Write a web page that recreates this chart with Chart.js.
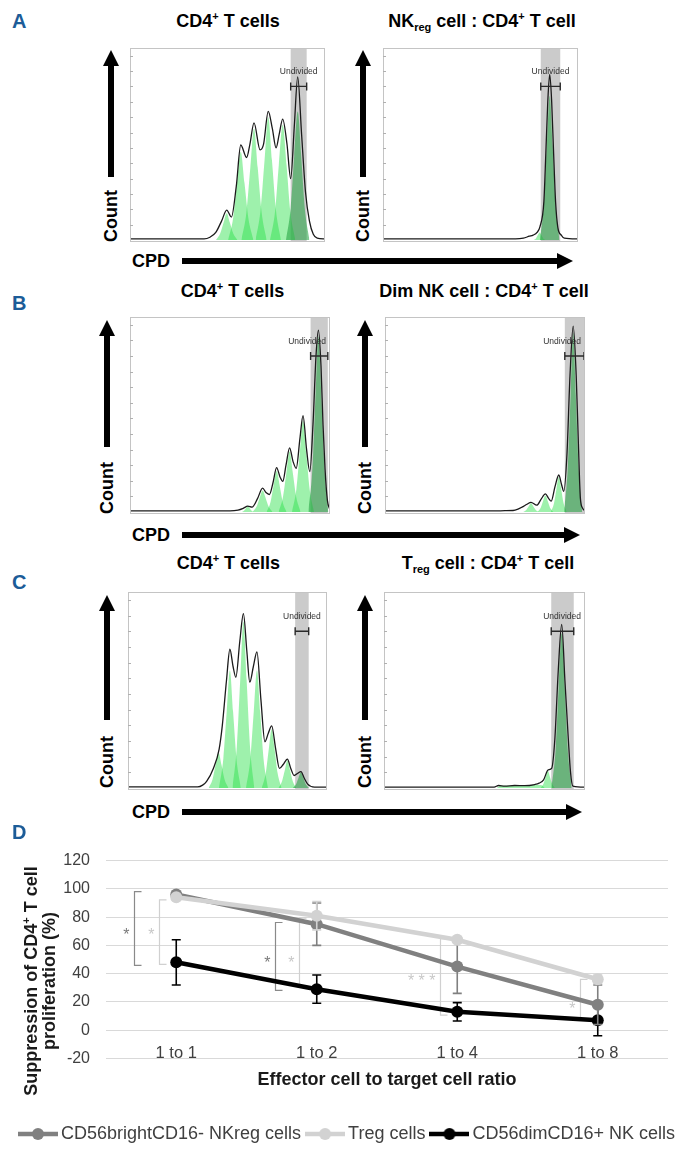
<!DOCTYPE html>
<html>
<head>
<meta charset="utf-8">
<script src="https://cdn.jsdelivr.net/npm/chart.js"></script>
<style>
  body { margin: 0; width: 697px; height: 1155px; position: relative; overflow: hidden; background: #fff;
         font-family: "Liberation Sans", Arial, sans-serif; color: #000; }
  canvas { position: absolute; }
  .lt { position: absolute; left: 12px; font-weight: bold; font-size: 20px; color: #1c5c98; transform: translateY(-50%); }
  .ttl { position: absolute; font-weight: bold; font-size: 18px; line-height: 20px; white-space: nowrap; transform: translate(-50%, -50%); }
  .ttl sup { font-size: 11px; vertical-align: 7px; line-height: 0; }
  .ttl sub { font-size: 11px; vertical-align: -4px; line-height: 0; }
  .cnt { position: absolute; font-weight: bold; font-size: 18px; line-height: 20px; transform: translate(-50%, -50%) rotate(-90deg); }
  .cpd { position: absolute; left: 132px; font-weight: bold; font-size: 18px; line-height: 20px; transform: translateY(-50%); }
  .blk { position: absolute; background: #000; }
  .headUp { position: absolute; width: 0; height: 0; border-left: 8px solid transparent; border-right: 8px solid transparent; border-bottom: 16px solid #000; }
  .headRight { position: absolute; width: 0; height: 0; border-top: 8px solid transparent; border-bottom: 8px solid transparent; border-left: 16px solid #000; }
  .ytitle { position: absolute; left: 40px; top: 981px; font-weight: bold; font-size: 18px; line-height: 18px; text-align: center;
            white-space: nowrap; color: #1a1a1a; transform: translate(-50%, -50%) rotate(-90deg); }
  .ytitle sup { font-size: 11px; vertical-align: 7px; line-height: 0; }
</style>
</head>
<body>
<canvas id="aLeft" width="195" height="194" style="left:130px;top:48px"></canvas>
<canvas id="aRight" width="195" height="194" style="left:383px;top:48px"></canvas>
<canvas id="bLeft" width="200" height="197" style="left:130px;top:317px"></canvas>
<canvas id="bRight" width="200" height="197" style="left:385px;top:317px"></canvas>
<canvas id="cLeft" width="199" height="198" style="left:128px;top:592px"></canvas>
<canvas id="cRight" width="201" height="198" style="left:384px;top:592px"></canvas>
<canvas id="lineD" width="697" height="320" style="left:0;top:835px"></canvas>
<div class="ytitle">Suppression of CD4<sup>+</sup> T cell<br>proliferation (%)</div>
<script>
// ---- panel A-C : CPD histograms (x = CPD 0-100, y = count % of max) ----
const aLeftOutline = [[0,0.6],[38,0.6],[41,1.5],[44,4],[47,10],[49.6,15.6],[52,12],[54.5,28],[56.8,49.5],[59.8,43],[61.5,50],[63.6,61],[66.7,47],[68.5,50],[70.9,67],[73,58],[74.9,48],[76.5,55],[78.3,63],[80.5,50],[82.4,32],[84.3,60],[86,85],[88,55],[90,25],[92,10],[94,3],[96,1],[100,0.6]];
const aLeftPeaks = [
  [[44.1,0],[46.3,3.5],[48,9.1],[49.6,14],[51.2,9.1],[52.9,3.5],[55.1,0]],
  [[50.3,0],[52.9,11.5],[54.9,29.9],[56.8,46],[58.7,29.9],[60.7,11.5],[63.3,0]],
  [[57.1,0],[59.7,14.5],[61.7,37.7],[63.6,58],[65.5,37.7],[67.5,14.5],[70.1,0]],
  [[64.4,0],[67,16],[69,41.6],[70.9,64],[72.8,41.6],[74.8,16],[77.4,0]],
  [[71.8,0],[74.4,15],[76.3,39],[78.3,60],[80.3,39],[82.2,15],[84.8,0]]
];
const aLeftUndivided = [[80,0],[82.4,16.8],[84.2,43.6],[86,67],[87.8,43.6],[89.6,16.8],[92,0]];
const aLeftGate = [82.4, 90.6];

const aRightOutline = [[0,0.6],[68,0.6],[72,1],[75,2],[77,2.6],[79,4],[80.5,7],[82.5,20],[83.5,45],[84.5,72],[85.5,86.3],[86.5,72],[87.5,45],[88.5,20],[89.7,6.4],[91.5,2.5],[93,1],[100,0.6]];
const aRightPeaks = [
  [[77.3,0],[78.5,1],[79.4,2.6],[80.3,4],[81.2,2.6],[82.1,1],[83.3,0]]
];
const aRightUndivided = [[80.5,0],[82.5,18.8],[84,48.8],[85.5,75],[87,48.8],[88.5,18.8],[90.5,0]];
const aRightGate = [80.9, 90.9];

const bLeftOutline = [[0,0.6],[50,0.6],[54,1],[56.6,1.9],[58.9,3],[61,2.5],[63.8,7],[66.3,12.3],[68,10],[69.7,9],[71.5,15],[73.3,22.8],[75,18],[76.4,15.7],[78,24],[79.8,32.9],[81.5,26],[83.1,22.4],[85,38],[86.5,49.4],[88.3,32],[89.9,20.7],[91.5,45],[93,80],[94.2,93.3],[95.5,75],[96.5,45],[97.5,22.4],[98.7,6],[100,1]];
const bLeftPeaks = [
  [[55.9,0],[57.1,0.8],[58,2],[58.9,3],[59.8,2],[60.7,0.8],[61.9,0]],
  [[61.3,0],[63.3,2.8],[64.8,7.2],[66.3,11],[67.8,7.2],[69.3,2.8],[71.3,0]],
  [[68.3,0],[70.3,5.3],[71.8,13.7],[73.3,21],[74.8,13.7],[76.3,5.3],[78.3,0]],
  [[74.3,0],[76.5,7.8],[78.2,20.2],[79.8,31],[81.4,20.2],[83.1,7.8],[85.3,0]],
  [[81,0],[83.2,11.8],[84.9,30.6],[86.5,47],[88.1,30.6],[89.8,11.8],[92,0]]
];
const bLeftUndivided = [[89.2,0],[91.2,22.5],[92.7,58.5],[94.2,90],[95.7,58.5],[97.2,22.5],[99.2,0]];
const bLeftGate = [90.3, 98.9];

const bRightOutline = [[0,0.6],[55,0.6],[60,0.7],[64,0.8],[66.5,1.5],[68.5,2.5],[71,4],[73,5],[75.9,3.5],[78,6.5],[80.2,9.3],[81.8,7],[83.1,5.6],[85,13],[86.9,19],[88.3,14],[89.4,10.6],[91,30],[92.5,70],[94.1,95.3],[95.6,70],[96.7,35],[97.7,7],[98.8,2],[100,0.6]];
const bRightPeaks = [
  [[69,0],[70.6,1.1],[71.8,2.9],[73,4.5],[74.2,2.9],[75.4,1.1],[77,0]],
  [[76.2,0],[77.8,2.1],[79,5.5],[80.2,8.5],[81.4,5.5],[82.6,2.1],[84.2,0]],
  [[82.9,0],[84.5,4.5],[85.7,11.7],[86.9,18],[88.1,11.7],[89.3,4.5],[90.9,0]]
];
const bRightUndivided = [[89.6,0],[91.4,23],[92.8,59.8],[94.1,92],[95.4,59.8],[96.8,23],[98.6,0]];
const bRightGate = [89.9, 99.5];

const cLeftOutline = [[0,0.6],[35,0.6],[37.5,1.5],[39.5,3.4],[42.9,10],[45.8,19.9],[47.4,32],[49.5,55],[51.2,70.8],[52.8,62],[54.2,56.5],[56.2,75],[58,89],[59.7,70],[61.2,54],[63,62],[64.8,69.5],[66.8,45],[68.8,23.6],[70.5,28],[72.2,31.7],[74.2,20],[76.1,10],[78,12],[80.1,14.8],[81.8,10],[83.5,6.4],[85.2,7.5],[86.9,8.4],[88.6,5],[90.3,2],[93.7,0.5],[100,0.5]];
const cLeftPeaks = [
  [[40.5,0],[42.5,4.5],[44,11.7],[45.5,18],[47,11.7],[48.5,4.5],[50.5,0]],
  [[45.7,0],[47.9,15],[49.6,39],[51.2,60],[52.8,39],[54.5,15],[56.7,0]],
  [[52.5,0],[54.7,21.3],[56.4,55.3],[58,85],[59.6,55.3],[61.3,21.3],[63.5,0]],
  [[59.3,0],[61.5,15],[63.2,39],[64.8,60],[66.4,39],[68.1,15],[70.3,0]],
  [[67.2,0],[69.2,7.5],[70.7,19.5],[72.2,30],[73.7,19.5],[75.2,7.5],[77.2,0]],
  [[75.6,0],[77.4,3.5],[78.8,9.1],[80.1,14],[81.4,9.1],[82.8,3.5],[84.6,0]]
];
const cLeftUndivided = [[82.9,0],[84.5,2],[85.7,5.2],[86.9,8],[88.1,5.2],[89.3,2],[90.9,0]];
const cLeftGate = [84, 90.8];

const cRightOutline = [[0,0.5],[54.8,0.5],[57,1.3],[60,1],[65,1.3],[70,1.2],[75,1.8],[77.2,2.5],[79.4,4.2],[81.7,9.3],[83.4,10],[85,25],[86.7,60],[88.4,83.5],[90,55],[91.7,25],[92.8,8],[94,1],[100,0.5]];
const cRightPeaks = [
  [[56,0],[58,1.2],[66,1.2],[74,1.5],[78,1.5],[80,0]],
  [[78,0],[79.4,2.3],[80.5,5.9],[81.5,9],[82.5,5.9],[83.6,2.3],[85,0]]
];
const cRightUndivided = [[83.4,0],[85.4,19.8],[86.9,51.4],[88.4,79],[89.9,51.4],[91.4,19.8],[93.4,0]];
const cRightGate = [83.2, 94.4];

const countTicks = [8, 16, 24, 32, 40, 48, 56, 64, 72, 80, 88, 96];

// ---- panel D : suppression of CD4+ T cell proliferation ----
const ratios = ['1 to 1', '1 to 2', '1 to 4', '1 to 8'];
const nkregMean = [96, 75, 45, 18];
const nkregErr = [1.5, 15, 19, 14];
const tregMean = [94, 81, 64, 36];
const tregErr = [1.5, 10, 2, 3];
const nkdimMean = [48, 29, 13, 7];
const nkdimErr = [16, 10, 6.5, 11];

const sigCats = [0, 0, 1, 1, 2, 3];
const sigTone = ['dark', 'light', 'dark', 'light', 'light', 'light'];
const sigLow = [45.9, 46.6, 28.2, 31.1, 10.6, 7.1];
const sigHigh = [98, 92.2, 76.2, 79.3, 64.7, 36];
const sigMarkAt = [69.4, 69.4, 50.1, 50.1, 36.9, 17.6];
const sigMarks = ['*', '*', '*', '*', '* * *', '*'];

Chart.defaults.font.family = '"Liberation Sans", Arial, sans-serif';

// ---- page furniture: panel letters, titles, arrows ----
const rows = [
  { letter: 'A', letterY: 20.5, titleY: 21, titles: [[228, 'CD4<sup>+</sup> T cells'], [482, 'NK<sub>reg</sub> cell : CD4<sup>+</sup> T cell']],
    arrowX: [111, 363], tip: 50, shaftEnd: 177, countY: 216, cpdY: 261, cpdEnd: 573 },
  { letter: 'B', letterY: 302.7, titleY: 291, titles: [[232.5, 'CD4<sup>+</sup> T cells'], [484, 'Dim NK cell : CD4<sup>+</sup> T cell']],
    arrowX: [107, 365], tip: 320, shaftEnd: 447, countY: 488, cpdY: 535, cpdEnd: 580 },
  { letter: 'C', letterY: 581.7, titleY: 563, titles: [[228.4, 'CD4<sup>+</sup> T cells'], [488, 'T<sub>reg</sub> cell : CD4<sup>+</sup> T cell']],
    arrowX: [107, 365], tip: 595, shaftEnd: 720, countY: 761.5, cpdY: 812, cpdEnd: 582 }
];

function addDiv(cls, style, html) {
  const d = document.createElement('div');
  d.className = cls;
  Object.assign(d.style, style);
  if (html) d.innerHTML = html;
  document.body.appendChild(d);
}

rows.forEach(r => {
  addDiv('lt', { top: r.letterY + 'px' }, r.letter);
  r.titles.forEach(([x, t]) => addDiv('ttl', { left: x + 'px', top: r.titleY + 'px' }, t));
  r.arrowX.forEach(x => {
    addDiv('headUp', { left: (x - 8) + 'px', top: r.tip + 'px' });
    addDiv('blk', { left: (x - 3) + 'px', top: (r.tip + 15) + 'px', width: '6px', height: (r.shaftEnd - r.tip - 15) + 'px' });
    addDiv('cnt', { left: x + 'px', top: r.countY + 'px' }, 'Count');
  });
  addDiv('cpd', { top: r.cpdY + 'px' }, 'CPD');
  addDiv('blk', { left: '182px', top: (r.cpdY - 2.75) + 'px', width: (r.cpdEnd - 15 - 182) + 'px', height: '5.5px' });
  addDiv('headRight', { left: (r.cpdEnd - 16) + 'px', top: (r.cpdY - 8) + 'px' });
});
addDiv('lt', { top: '831.7px' }, 'D');

// ---- histogram decorations: gate band, gate bar, frame ----
const histDecor = {
  id: 'histDecor',
  beforeDatasetsDraw(chart, args, opts) {
    const { ctx, chartArea: a, scales: { x } } = chart;
    const x0 = x.getPixelForValue(opts.gate[0]);
    const x1 = x.getPixelForValue(opts.gate[1]);
    ctx.save();
    ctx.fillStyle = '#cbcbcb';
    ctx.fillRect(x0, a.top, x1 - x0, a.bottom - a.top);
    ctx.restore();
  },
  afterDatasetsDraw(chart, args, opts) {
    const { ctx, chartArea: a, scales: { x, y } } = chart;
    const x0 = x.getPixelForValue(opts.gate[0]);
    const x1 = x.getPixelForValue(opts.gate[1]);
    const yb = y.getPixelForValue(80);
    ctx.save();
    ctx.strokeStyle = '#2a2a2a';
    ctx.lineWidth = 1.4;
    ctx.beginPath();
    ctx.moveTo(x0, yb); ctx.lineTo(x1, yb);
    ctx.moveTo(x0, yb - 4); ctx.lineTo(x0, yb + 4);
    ctx.moveTo(x1, yb - 4); ctx.lineTo(x1, yb + 4);
    ctx.stroke();

    ctx.font = '8.5px "Liberation Sans", Arial, sans-serif';
    ctx.fillStyle = '#333';
    ctx.textAlign = 'center';
    ctx.textBaseline = 'middle';
    const w = ctx.measureText('Undivided').width;
    let cx = (x0 + x1) / 2;
    if (cx + w / 2 > a.right - 4) cx = a.right - 4 - w / 2;
    ctx.fillText('Undivided', cx, y.getPixelForValue(87.5));

    ctx.strokeStyle = '#c4c4c4';
    ctx.lineWidth = 1;
    ctx.strokeRect(a.left + 0.5, a.top + 0.5, a.right - a.left - 1, a.bottom - a.top - 1);
    ctx.strokeStyle = '#b0b0b0';
    ctx.beginPath();
    countTicks.forEach(v => {
      const py = Math.round(y.getPixelForValue(v)) + 0.5;
      ctx.moveTo(a.left, py); ctx.lineTo(a.left + 3, py);
    });
    ctx.stroke();
    ctx.restore();
  }
};

const toXY = pts => pts.map(([x, y]) => ({ x, y }));

function histogram(id, outline, peaks, undivided, gate) {
  const datasets = [
    { data: toXY(outline), borderColor: '#1b1b1b', borderWidth: 1.3, fill: false },
    { data: toXY(undivided), borderColor: 'rgba(0,0,0,0)', borderWidth: 0, backgroundColor: 'rgba(30,160,60,0.55)', fill: 'origin' },
    ...peaks.map(p => ({ data: toXY(p), borderColor: 'rgba(0,0,0,0)', borderWidth: 0, backgroundColor: 'rgba(40,225,70,0.45)', fill: 'origin' }))
  ];
  new Chart(document.getElementById(id), {
    type: 'line',
    data: { datasets },
    options: {
      responsive: false,
      animation: false,
      layout: { padding: 0 },
      elements: { point: { radius: 0 }, line: { cubicInterpolationMode: 'monotone' } },
      scales: {
        x: { type: 'linear', min: 0, max: 100, display: false },
        y: { min: -1, max: 100, display: false }
      },
      plugins: { legend: { display: false }, tooltip: { enabled: false }, histDecor: { gate } }
    },
    plugins: [histDecor]
  });
}

histogram('aLeft', aLeftOutline, aLeftPeaks, aLeftUndivided, aLeftGate);
histogram('aRight', aRightOutline, aRightPeaks, aRightUndivided, aRightGate);
histogram('bLeft', bLeftOutline, bLeftPeaks, bLeftUndivided, bLeftGate);
histogram('bRight', bRightOutline, bRightPeaks, bRightUndivided, bRightGate);
histogram('cLeft', cLeftOutline, cLeftPeaks, cLeftUndivided, cLeftGate);
histogram('cRight', cRightOutline, cRightPeaks, cRightUndivided, cRightGate);

// ---- panel D ----
const toneColor = { dark: '#8a8a8a', light: '#d0d0d0' };
const toneShift = { dark: -0.30, light: -0.125 };

const errorBars = {
  id: 'errorBars',
  beforeDatasetsDraw(chart) {
    const { ctx, scales: { x, y } } = chart;
    ctx.save();
    // category labels sit just under the zero line
    ctx.font = '16.5px "Liberation Sans", Arial, sans-serif';
    ctx.fillStyle = '#404040';
    ctx.textAlign = 'center';
    ctx.textBaseline = 'middle';
    ratios.forEach((r, i) => ctx.fillText(r, x.getPixelForValue(i), y.getPixelForValue(0) + 23.5));

    // significance brackets behind the lines
    ctx.lineWidth = 1.2;
    ctx.font = '16px "Liberation Sans", Arial, sans-serif';
    ctx.textAlign = 'right';
    sigCats.forEach((c, i) => {
      const col = toneColor[sigTone[i]];
      const bx = Math.round(x.getPixelForValue(c + toneShift[sigTone[i]])) + 0.5;
      const yt = y.getPixelForValue(sigHigh[i]);
      const yl = y.getPixelForValue(sigLow[i]);
      ctx.strokeStyle = col;
      ctx.beginPath();
      ctx.moveTo(bx + 7, yt); ctx.lineTo(bx, yt); ctx.lineTo(bx, yl); ctx.lineTo(bx + 7, yl);
      ctx.stroke();
      ctx.fillStyle = sigTone[i] === 'dark' ? '#7a7a7a' : '#c8c8c8';
      ctx.fillText(sigMarks[i], bx - 5, y.getPixelForValue(sigMarkAt[i]) + 4);
    });
    ctx.restore();
  },
  beforeDatasetDraw(chart, args) {
    const ds = chart.data.datasets[args.index];
    const { ctx, scales: { y } } = chart;
    ctx.save();
    ctx.strokeStyle = ds.borderColor;
    ctx.lineWidth = 1.6;
    ctx.beginPath();
    args.meta.data.forEach((pt, i) => {
      const top = y.getPixelForValue(ds.data[i] + ds.errorBars[i]);
      const bot = y.getPixelForValue(ds.data[i] - ds.errorBars[i]);
      ctx.moveTo(pt.x, top); ctx.lineTo(pt.x, bot);
      ctx.moveTo(pt.x - 4.5, top); ctx.lineTo(pt.x + 4.5, top);
      ctx.moveTo(pt.x - 4.5, bot); ctx.lineTo(pt.x + 4.5, bot);
    });
    ctx.stroke();
    ctx.restore();
  }
};

function legendIcon(color) {
  const c = document.createElement('canvas');
  c.width = 40; c.height = 14;
  const g = c.getContext('2d');
  g.strokeStyle = color; g.lineWidth = 4.5;
  g.beginPath(); g.moveTo(0, 7); g.lineTo(40, 7); g.stroke();
  g.fillStyle = color;
  g.beginPath(); g.arc(20, 7, 6, 0, Math.PI * 2); g.fill();
  return c;
}

function series(label, data, err, color, order) {
  return {
    label, data, errorBars: err, order, yAxisID: 'y',
    borderColor: color, backgroundColor: color, borderWidth: 4.5,
    pointRadius: 6, pointBackgroundColor: color, pointBorderWidth: 0, tension: 0
  };
}

new Chart(document.getElementById('lineD'), {
  type: 'line',
  data: {
    labels: ratios,
    datasets: [
      series('CD56brightCD16- NKreg cells', nkregMean, nkregErr, '#808080', 2),
      series('Treg cells', tregMean, tregErr, '#d2d2d2', 1),
      series('CD56dimCD16+ NK cells', nkdimMean, nkdimErr, '#000000', 3)
    ]
  },
  options: {
    responsive: false,
    animation: false,
    layout: { padding: { top: 9, right: 0, bottom: 2, left: 14 } },
    scales: {
      x: {
        offset: true,
        grid: { display: false },
        border: { display: false },
        ticks: { display: false },
        title: { display: true, text: 'Effector cell to target cell ratio', color: '#1a1a1a',
                 font: { size: 18, weight: 'bold' }, padding: { top: 3, bottom: 24 } }
      },
      y: {
        min: -20, max: 120,
        ticks: { stepSize: 20, color: '#404040', font: { size: 16 }, padding: 16 },
        grid: { color: '#d9d9d9', drawTicks: false },
        border: { display: false },
        afterFit(scale) { scale.width = 92; }
      },
      yRight: {
        position: 'right',
        grid: { display: false },
        border: { display: false },
        ticks: { display: false },
        afterFit(scale) { scale.width = 29; }
      }
    },
    plugins: {
      tooltip: { enabled: false },
      legend: {
        position: 'bottom',
        align: 'start',
        labels: {
          usePointStyle: true, pointStyleWidth: 28, padding: 10,
          color: '#404040', font: { size: 18 },
          generateLabels: chart => chart.data.datasets.map((ds, i) => ({
            text: ds.label, fillStyle: ds.borderColor, strokeStyle: ds.borderColor, lineWidth: 0,
            pointStyle: legendIcon(ds.borderColor), datasetIndex: i, hidden: false, fontColor: '#404040'
          }))
        }
      }
    }
  },
  plugins: [errorBars]
});
</script>
</body>
</html>
